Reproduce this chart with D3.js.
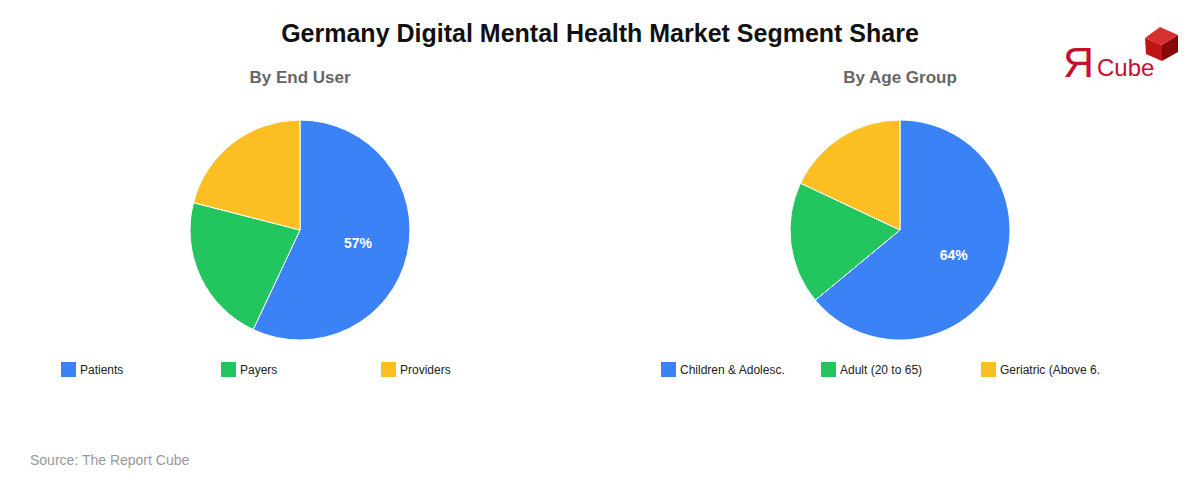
<!DOCTYPE html>
<html><head><meta charset="utf-8">
<script src="https://cdn.jsdelivr.net/npm/d3@7"></script>
<style>body{margin:0;background:#fff;} svg{display:block;font-family:"Liberation Sans",Arial,sans-serif;}</style>
</head><body>
<script>
const title = "Germany Digital Mental Health Market Segment Share";
const chart1Title = "By End User";
const chart1Labels = ["Patients", "Payers", "Providers"];
const chart1Values = [57, 22, 21];
const chart2Title = "By Age Group";
const chart2Labels = ["Children & Adolesc.", "Adult (20 to 65)", "Geriatric (Above 6."];
const chart2Values = [64, 18, 18];
const colors = ["#3b82f6", "#22c55e", "#fbbf24"];
const sourceText = "Source: The Report Cube";

const W = 1200, H = 480;
const svg = d3.select("body").append("svg").attr("width", W).attr("height", H);
svg.append("rect").attr("width", W).attr("height", H).attr("fill", "#fff");

svg.append("text").attr("x", 600).attr("y", 42).attr("text-anchor", "middle")
  .attr("font-size", 25).attr("font-weight", "bold").attr("fill", "#111").text(title);

function drawPie(cx, subtitle, labels, values) {
  const g = svg.append("g");
  g.append("text").attr("x", cx).attr("y", 83).attr("text-anchor", "middle")
    .attr("font-size", 17).attr("font-weight", "bold").attr("fill", "#666").text(subtitle);
  const R = 110;
  const data = labels.map((l, i) => ({label: l, value: values[i], color: colors[i]}));
  const pie = d3.pie().value(d => d.value).sort(null);
  const arc = d3.arc().innerRadius(0).outerRadius(R);
  const labelArc = d3.arc().innerRadius(R * 0.54).outerRadius(R * 0.54);
  const arcs = pie(data);
  const pg = g.append("g").attr("transform", `translate(${cx},230)`);
  pg.selectAll("path").data(arcs).join("path").attr("d", arc)
    .attr("fill", d => d.data.color).attr("stroke", "#fff").attr("stroke-width", 1);
  const total = d3.sum(values);
  pg.selectAll("text").data(arcs.filter(d => d.data.value / total > 0.3)).join("text")
    .attr("transform", d => `translate(${labelArc.centroid(d)})`)
    .attr("text-anchor", "middle").attr("dy", "0.35em")
    .attr("font-size", 14).attr("font-weight", "bold").attr("fill", "#fff")
    .text(d => Math.round(d.data.value / total * 100) + "%");
  const lx = d3.scaleLinear().domain([0, 1]).range([cx - 239, cx - 79]);
  const lg = g.selectAll("g.leg").data(data).join("g").attr("class", "leg")
    .attr("transform", (d, i) => `translate(${lx(i)},362)`);
  lg.append("rect").attr("width", 15).attr("height", 15).attr("fill", d => d.color);
  lg.append("text").attr("x", 19).attr("y", 12).attr("font-size", 12).attr("fill", "#222").text(d => d.label);
}
drawPie(300, chart1Title, chart1Labels, chart1Values);
drawPie(900, chart2Title, chart2Labels, chart2Values);

svg.append("text").attr("x", 30).attr("y", 465).attr("font-size", 14).attr("fill", "#999").text(sourceText);

// logo
const logo = svg.append("g");
logo.append("text").attr("x", 1063).attr("y", 77).attr("font-size", 43).attr("fill", "#c8102e").text("Я");
logo.append("text").attr("x", 1097).attr("y", 76).attr("font-size", 24).attr("fill", "#c8102e").text("Cube");
logo.append("polygon").attr("points", "1145,38 1160,27 1178,35 1162,45").attr("fill", "#d83030");
logo.append("polygon").attr("points", "1145,38 1162,45 1162,61 1146,54").attr("fill", "#c01515");
logo.append("polygon").attr("points", "1162,45 1178,35 1178,52 1162,61").attr("fill", "#850909");
</script>
</body></html>
